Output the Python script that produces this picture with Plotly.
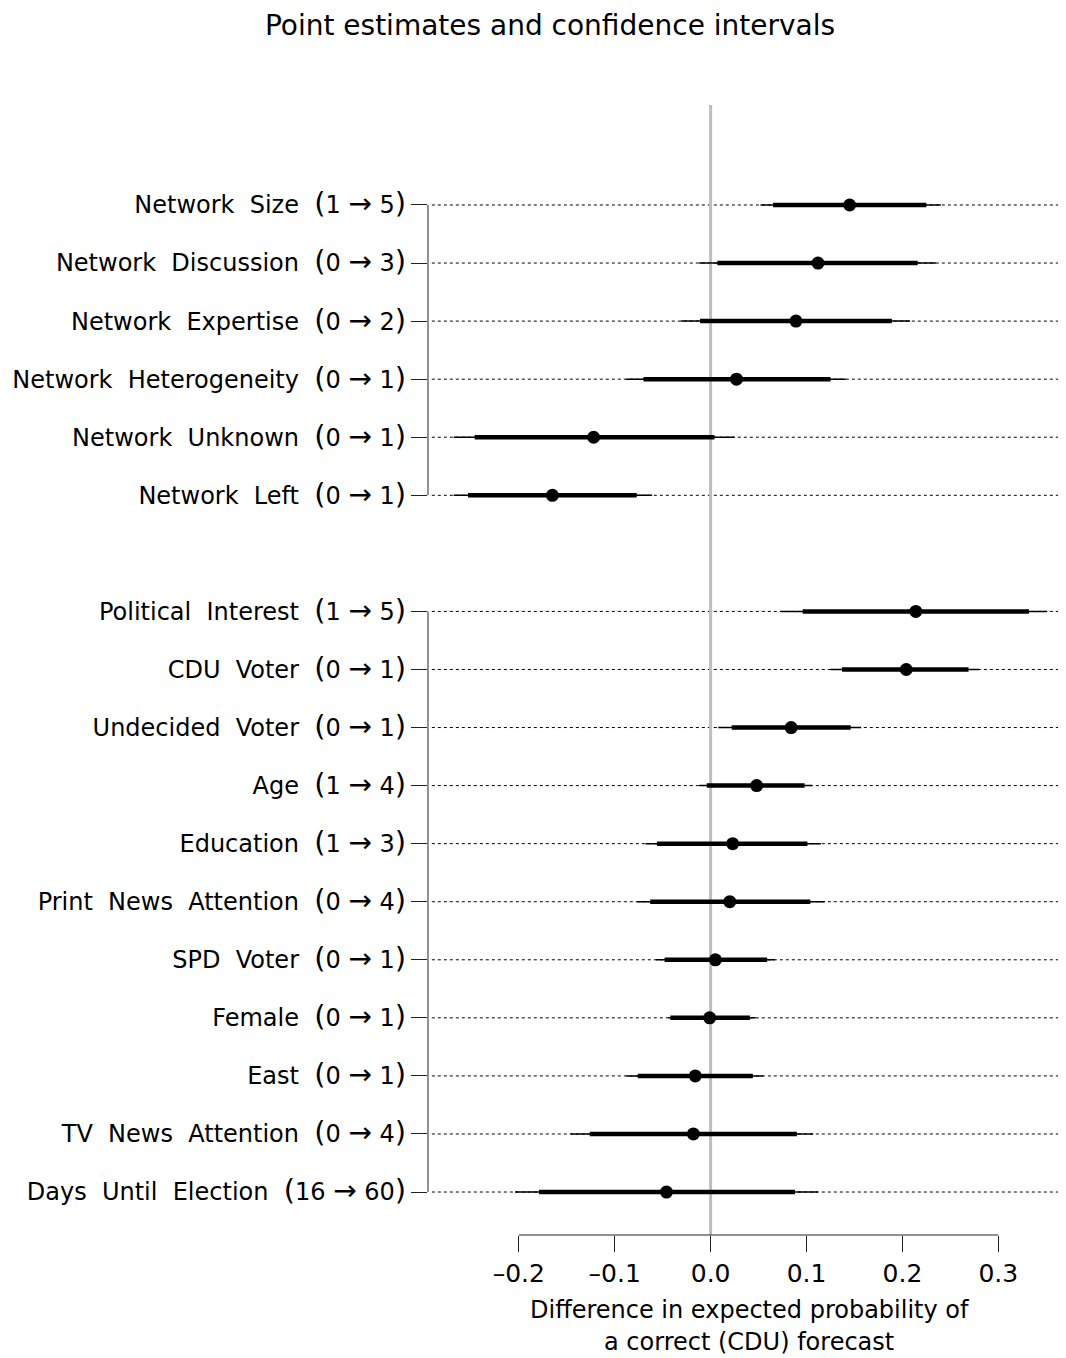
import plotly.graph_objects as go

# ---------------- data ----------------
group1_names = ["Network Size", "Network Discussion", "Network Expertise",
                "Network Heterogeneity", "Network Unknown", "Network Left"]
group1_ranges = [("1", "5"), ("0", "3"), ("0", "2"), ("0", "1"), ("0", "1"), ("0", "1")]
group1_est = [0.145, 0.112, 0.089, 0.027, -0.122, -0.165]
group1_lo95 = [0.052, -0.012, -0.031, -0.088, -0.268, -0.268]
group1_lo90 = [0.065, 0.007, -0.011, -0.070, -0.246, -0.253]
group1_hi90 = [0.225, 0.216, 0.189, 0.125, 0.004, -0.077]
group1_hi95 = [0.240, 0.235, 0.208, 0.141, 0.025, -0.061]

group2_names = ["Political Interest", "CDU Voter", "Undecided Voter", "Age", "Education",
                "Print News Attention", "SPD Voter", "Female", "East",
                "TV News Attention", "Days Until Election"]
group2_ranges = [("1", "5"), ("0", "1"), ("0", "1"), ("1", "4"), ("1", "3"), ("0", "4"),
                 ("0", "1"), ("0", "1"), ("0", "1"), ("0", "4"), ("16", "60")]
group2_est = [0.214, 0.204, 0.084, 0.048, 0.023, 0.020, 0.005, -0.001, -0.016, -0.018, -0.046]
group2_lo95 = [0.073, 0.125, 0.008, -0.012, -0.068, -0.077, -0.057, -0.044, -0.088, -0.146, -0.204]
group2_lo90 = [0.096, 0.137, 0.022, -0.004, -0.056, -0.063, -0.048, -0.042, -0.076, -0.126, -0.179]
group2_hi90 = [0.332, 0.269, 0.146, 0.098, 0.101, 0.104, 0.059, 0.041, 0.044, 0.090, 0.088]
group2_hi95 = [0.351, 0.280, 0.157, 0.106, 0.115, 0.119, 0.067, 0.047, 0.055, 0.107, 0.112]

x_ticks = [-0.2, -0.1, 0.0, 0.1, 0.2, 0.3]
x_ticktext = ["\u20130.2", "\u20130.1", "0.0", "0.1", "0.2", "0.3"]

title_text = "Point estimates and confidence intervals"
xtitle_line1 = "Difference in expected probability of"
xtitle_line2 = "a correct (CDU) forecast"

# ---------------- layout helpers ----------------
FONT = "DejaVu Sans, Verdana, sans-serif"
OFF = 8  # default page body margin
W, H = 1066 - OFF, 1358 - OFF

names = group1_names + group2_names
ranges = group1_ranges + group2_ranges
est = group1_est + group2_est
lo95 = group1_lo95 + group2_lo95
lo90 = group1_lo90 + group2_lo90
hi90 = group1_hi90 + group2_hi90
hi95 = group1_hi95 + group2_hi95

# row positions: group 1 at 1..n1, blank slot, then group 2
n1 = len(group1_names)
pos = [i + 1 for i in range(n1)] + [n1 + 2 + i for i in range(len(group2_names))]

SP = " \u00a0"


def make_label(name, rng):
    nm = name.replace(" ", SP)
    par = "<span style='font-size:29px'>{}</span>"
    arrow = "<span style='font-size:28px'>\u2192</span>"
    return f"{nm}{SP}{par.format('(')}{rng[0]} {arrow} {rng[1]}{par.format(')')}"


labels = [make_label(n, r) for n, r in zip(names, ranges)]

thin_x, thin_y, thick_x, thick_y = [], [], [], []
for p, a, b, c, d in zip(pos, lo95, lo90, hi90, hi95):
    thin_x += [a, d, None]
    thin_y += [p, p, None]
    thick_x += [b, c, None]
    thick_y += [p, p, None]

fig = go.Figure()
fig.add_trace(go.Scatter(x=thin_x, y=thin_y, mode="lines",
                         line=dict(color="black", width=1.5), hoverinfo="skip"))
fig.add_trace(go.Scatter(x=thick_x, y=thick_y, mode="lines",
                         line=dict(color="black", width=4.5), hoverinfo="skip"))
fig.add_trace(go.Scatter(x=est, y=pos, mode="markers",
                         marker=dict(color="black", size=13), hoverinfo="skip"))

shapes = []
# dotted guide lines
for p in pos:
    shapes.append(dict(type="line", xref="paper", yref="y", x0=0.006, x1=1, y0=p, y1=p,
                       line=dict(color="black", width=1, dash="dot"), layer="below"))
# zero reference line
shapes.append(dict(type="line", xref="x", yref="paper", x0=0, x1=0, y0=0, y1=1,
                   line=dict(color="#bebebe", width=3), layer="below"))
# left axis segments per group
g1 = pos[:n1]
g2 = pos[n1:]
for g in (g1, g2):
    shapes.append(dict(type="line", xref="paper", yref="y", x0=0, x1=0, y0=g[0], y1=g[-1],
                       line=dict(color="#222222", width=1)))
# bottom axis line spanning tick range
shapes.append(dict(type="line", xref="x", yref="paper", x0=x_ticks[0], x1=x_ticks[-1],
                   y0=0, y1=0, line=dict(color="#222222", width=1)))

plot_left, plot_right, plot_top, plot_bottom = 428, 1066, 105, 1235
plot_h = plot_bottom - plot_top
plot_w = plot_right - plot_left

fig.update_layout(
    width=W, height=H,
    margin=dict(l=plot_left - OFF, r=W + OFF - plot_right, t=plot_top - OFF,
                b=H + OFF - plot_bottom),
    paper_bgcolor="white", plot_bgcolor="white",
    showlegend=False,
    font=dict(family=FONT, color="black", size=24),
    shapes=shapes,
    title=dict(text=title_text, xref="container", yref="container",
               x=(550 - OFF) / W, xanchor="center", y=1 - (25 - OFF) / H, yanchor="middle",
               font=dict(size=28, family=FONT, color="black")),
    annotations=[
        dict(text=xtitle_line1, xref="paper", yref="paper", x=(749 - plot_left) / plot_w,
             y=-(1310 - plot_bottom) / plot_h, xanchor="center", yanchor="middle",
             showarrow=False, font=dict(size=24, family=FONT, color="black")),
        dict(text=xtitle_line2, xref="paper", yref="paper", x=(749 - plot_left) / plot_w,
             y=-(1342 - plot_bottom) / plot_h, xanchor="center", yanchor="middle",
             showarrow=False, font=dict(size=24, family=FONT, color="black")),
    ],
)

fig.update_xaxes(range=[-0.2947, 0.3706], tickvals=x_ticks, ticktext=x_ticktext,
                 ticks="outside", ticklen=16, tickwidth=1, tickcolor="#222222",
                 showline=False, showgrid=False, zeroline=False,
                 tickfont=dict(size=25, family=FONT, color="black"))
fig.update_yaxes(range=[18.74, -0.722], tickvals=pos, ticktext=labels,
                 ticks="outside", ticklen=16, tickwidth=1, tickcolor="#222222",
                 showline=False, showgrid=False, zeroline=False,
                 tickfont=dict(size=24, family=FONT, color="black"))

fig.write_html("out.html")
